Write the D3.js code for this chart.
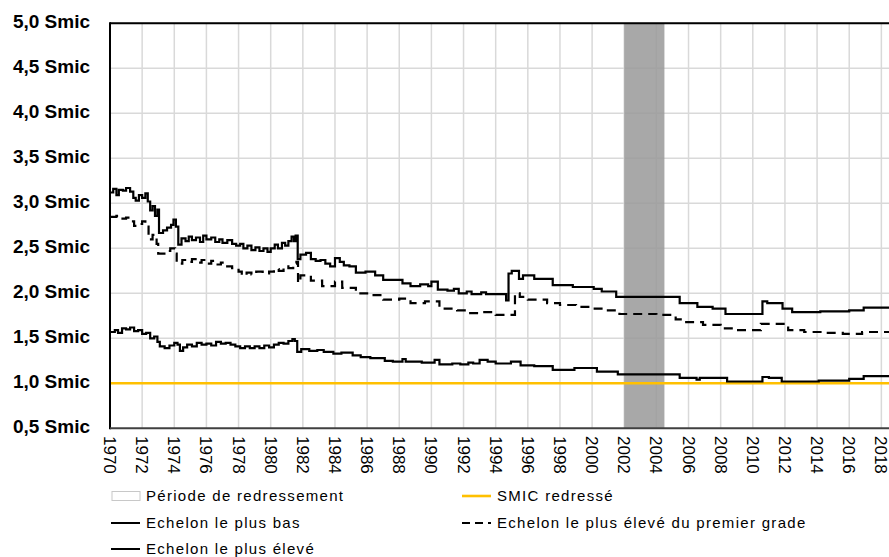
<!DOCTYPE html>
<html>
<head>
<meta charset="utf-8">
<script src="https://cdn.jsdelivr.net/npm/d3@7"></script>
<style>
  html, body { margin: 0; padding: 0; background: #fff; }
  svg { display: block; font-family: "Liberation Sans", Arial, sans-serif; }
</style>
</head>
<body>
<svg id="chart" width="889" height="557"></svg>
<script>
// Rémunération en multiples du Smic, 1970-2018

const tickYears = d3.range(1970, 2019, 2);
const yTicks = [0.5, 1.0, 1.5, 2.0, 2.5, 3.0, 3.5, 4.0, 4.5, 5.0];

// Période de redressement (début, fin)
const redressement = [2002.0, 2004.5];

// SMIC redressé
const smic = [[1970, 1.0], [2018.5, 1.0]];

// Echelon le plus bas
const echelonBas = [
  [1970.0,1.57],[1970.3,1.59],[1970.5,1.56],[1970.75,1.61],[1971.0,1.60],[1971.25,1.62],
  [1971.5,1.58],[1971.75,1.59],[1972.0,1.55],[1972.25,1.56],[1972.5,1.50],[1972.75,1.52],
  [1972.95,1.46],[1973.1,1.41],[1973.4,1.39],[1973.7,1.42],[1974.0,1.45],[1974.2,1.43],
  [1974.35,1.36],[1974.55,1.40],[1974.8,1.43],[1975.1,1.41],[1975.4,1.45],[1975.7,1.43],
  [1976.0,1.44],[1976.3,1.42],[1976.6,1.46],[1976.9,1.44],[1977.2,1.45],[1977.5,1.43],
  [1977.8,1.41],[1978.1,1.39],[1978.4,1.41],[1978.7,1.39],[1979.0,1.41],[1979.3,1.39],
  [1979.6,1.42],[1979.9,1.40],[1980.2,1.43],[1980.5,1.45],[1980.8,1.44],[1981.1,1.47],
  [1981.35,1.49],[1981.5,1.47],[1981.65,1.35],[1981.9,1.38],[1982.4,1.36],[1982.9,1.37],
  [1983.3,1.35],[1983.9,1.33],[1984.4,1.34],[1985.1,1.31],[1985.6,1.29],[1986.2,1.28],
  [1987.1,1.25],[1987.6,1.24],[1988.2,1.27],[1988.4,1.24],[1989.4,1.23],[1990.2,1.26],
  [1990.5,1.21],[1991.3,1.22],[1991.8,1.21],[1992.3,1.23],[1992.6,1.22],[1993.0,1.26],
  [1993.5,1.24],[1994.0,1.22],[1994.95,1.24],[1995.55,1.20],[1996.4,1.19],[1997.55,1.15],
  [1998.9,1.17],[2000.3,1.13],[2001.6,1.10],[2005.45,1.06],[2006.5,1.04],[2006.7,1.06],
  [2008.4,1.02],[2010.6,1.07],[2011.0,1.06],[2011.8,1.02],[2014.1,1.03],[2016.0,1.05],
  [2016.9,1.08],[2018.5,1.08]
];

// Echelon le plus élevé du premier grade
const echelonPremierGrade = [
  [1970.0,2.85],[1970.4,2.86],[1970.6,2.83],[1971.0,2.84],[1971.3,2.80],[1971.5,2.75],
  [1971.8,2.77],[1972.0,2.80],[1972.2,2.74],[1972.4,2.60],[1972.65,2.65],[1972.9,2.55],
  [1973.0,2.44],[1973.55,2.47],[1973.75,2.50],[1974.05,2.44],[1974.15,2.33],[1974.5,2.37],
  [1974.8,2.35],[1975.1,2.38],[1975.4,2.34],[1975.7,2.37],[1976.0,2.33],[1976.3,2.36],
  [1976.6,2.32],[1976.9,2.34],[1977.2,2.30],[1977.6,2.28],[1978.0,2.24],[1978.2,2.20],
  [1978.5,2.23],[1978.8,2.21],[1979.1,2.24],[1979.5,2.22],[1979.9,2.24],[1980.2,2.27],
  [1980.5,2.25],[1980.8,2.30],[1981.1,2.28],[1981.4,2.33],[1981.6,2.35],[1981.7,2.12],
  [1981.85,2.20],[1982.5,2.14],[1983.2,2.08],[1984.0,2.13],[1984.45,2.06],[1985.3,2.00],
  [1986.0,1.98],[1987.0,1.93],[1988.0,1.94],[1988.7,1.89],[1989.6,1.91],[1990.5,1.83],
  [1991.6,1.81],[1992.3,1.78],[1993.2,1.79],[1994.0,1.76],[1995.2,2.00],[1995.5,1.96],
  [1996.0,1.93],[1997.2,1.89],[1998.0,1.87],[1999.0,1.85],[2000.0,1.83],[2000.9,1.81],
  [2001.7,1.77],[2004.0,1.76],[2005.2,1.71],[2005.6,1.68],[2006.9,1.65],[2008.0,1.61],
  [2009.0,1.59],[2010.5,1.66],[2012.2,1.59],[2013.2,1.57],[2014.4,1.56],[2015.6,1.55],
  [2016.8,1.57],[2018.5,1.57]
];

// Echelon le plus élevé
const echelonEleve = [
  [1970.0,3.12],[1970.2,3.16],[1970.4,3.09],[1970.55,3.15],[1970.8,3.14],[1971.0,3.17],
  [1971.25,3.13],[1971.45,3.06],[1971.6,3.03],[1971.8,3.09],[1972.0,3.06],[1972.2,3.11],
  [1972.35,3.02],[1972.5,2.92],[1972.65,2.97],[1972.8,2.86],[1972.95,2.93],[1973.05,2.67],
  [1973.3,2.70],[1973.55,2.73],[1973.8,2.76],[1973.95,2.82],[1974.1,2.74],[1974.25,2.54],
  [1974.45,2.61],[1974.7,2.58],[1974.9,2.63],[1975.1,2.59],[1975.35,2.62],[1975.6,2.57],
  [1975.8,2.64],[1976.0,2.60],[1976.3,2.62],[1976.55,2.57],[1976.8,2.60],[1977.0,2.56],
  [1977.3,2.59],[1977.6,2.55],[1977.85,2.53],[1978.1,2.55],[1978.3,2.50],[1978.55,2.53],
  [1978.8,2.48],[1979.05,2.51],[1979.3,2.47],[1979.55,2.50],[1979.8,2.46],[1980.0,2.50],
  [1980.25,2.54],[1980.45,2.50],[1980.7,2.56],[1980.9,2.53],[1981.1,2.58],[1981.3,2.63],
  [1981.45,2.58],[1981.55,2.64],[1981.68,2.38],[1981.85,2.43],[1982.2,2.45],[1982.5,2.38],
  [1982.8,2.36],[1983.1,2.37],[1983.4,2.33],[1983.7,2.30],[1984.0,2.39],[1984.3,2.35],
  [1984.55,2.31],[1984.9,2.30],[1985.3,2.23],[1985.9,2.24],[1986.5,2.20],[1987.0,2.15],
  [1987.6,2.15],[1988.2,2.11],[1988.7,2.08],[1989.3,2.10],[1989.8,2.08],[1990.0,2.13],
  [1990.4,2.04],[1991.0,2.03],[1991.4,2.05],[1991.7,2.00],[1992.2,2.02],[1992.5,1.99],
  [1993.1,2.01],[1993.4,1.99],[1994.65,1.92],[1994.8,2.22],[1995.0,2.25],[1995.45,2.16],
  [1995.7,2.20],[1996.4,2.16],[1997.55,2.09],[1998.8,2.07],[2000.1,2.05],[2000.6,2.02],
  [2001.5,1.96],[2005.45,1.89],[2006.55,1.85],[2007.5,1.83],[2008.3,1.77],[2010.6,1.91],
  [2010.9,1.89],[2011.85,1.83],[2012.45,1.79],[2014.2,1.80],[2016.0,1.81],[2016.9,1.84],
  [2018.5,1.84]
];

const svg = d3.select("#chart");
const plotLeft = 110, plotRight = 889.4, plotTop = 23.3, plotBottom = 428.3;

const x = d3.scaleLinear().domain([1970, 2018.5]).range([plotLeft, plotRight]);
const y = d3.scaleLinear().domain([0.5, 5.0]).range([plotBottom, plotTop]);

// Quadrillage
const grid = svg.append("g");
grid.selectAll("line.v").data(tickYears.slice(1)).join("line")
  .attr("class", "v")
  .attr("x1", d => x(d)).attr("x2", d => x(d))
  .attr("y1", plotTop).attr("y2", plotBottom)
  .attr("stroke", "#d9d9d9").attr("stroke-width", 1.5);
grid.selectAll("line.h").data(yTicks.slice(1)).join("line")
  .attr("class", "h")
  .attr("x1", plotLeft).attr("x2", 889)
  .attr("y1", d => y(d)).attr("y2", d => y(d))
  .attr("stroke", "#d9d9d9").attr("stroke-width", 1.5);

// Période de redressement
svg.append("rect")
  .attr("x", x(redressement[0]))
  .attr("y", plotTop)
  .attr("width", x(redressement[1]) - x(redressement[0]))
  .attr("height", plotBottom - plotTop)
  .attr("fill", "#999999").attr("fill-opacity", 0.85);

// SMIC redressé
const line = d3.line().x(d => x(d[0])).y(d => y(d[1])).curve(d3.curveStepAfter);
svg.append("path").datum(smic).attr("d", line)
  .attr("fill", "none").attr("stroke", "#ffc000").attr("stroke-width", 2.6);

// Séries
const series = [
  { data: echelonBas, dash: null },
  { data: echelonPremierGrade, dash: "9,6" },
  { data: echelonEleve, dash: null }
];
series.forEach(s => {
  svg.append("path").datum(s.data).attr("d", line)
    .attr("fill", "none").attr("stroke", "#000").attr("stroke-width", 2.2)
    .attr("stroke-linejoin", "miter")
    .attr("stroke-dasharray", s.dash);
});

// Cadre : haut, gauche, bas
svg.append("line").attr("x1", plotLeft).attr("x2", 889).attr("y1", plotTop).attr("y2", plotTop)
  .attr("stroke", "#000").attr("stroke-width", 2);
svg.append("line").attr("x1", plotLeft).attr("x2", plotLeft).attr("y1", plotTop - 1).attr("y2", plotBottom + 1)
  .attr("stroke", "#000").attr("stroke-width", 2);
svg.append("line").attr("x1", plotLeft).attr("x2", 889).attr("y1", plotBottom).attr("y2", plotBottom)
  .attr("stroke", "#404040").attr("stroke-width", 2);

// Axe des ordonnées
const fmt = d => d.toFixed(1).replace(".", ",") + " Smic";
svg.append("g").selectAll("text").data(yTicks).join("text")
  .attr("x", 90).attr("y", d => y(d) + 5)
  .attr("text-anchor", "end")
  .attr("font-size", 19).attr("font-weight", "bold").attr("fill", "#000")
  .text(fmt);

// Axe des abscisses
svg.append("g").selectAll("text").data(tickYears).join("text")
  .attr("transform", d => `translate(${x(d)},436) rotate(90)`)
  .attr("dy", "0.35em")
  .attr("font-size", 17).attr("fill", "#000")
  .text(d => d);

// Légende
const legend = svg.append("g").attr("font-size", 15).attr("letter-spacing", "1.3px").attr("fill", "#000");
const items = [
  { label: "Période de redressement", type: "rect", lx: 111, ly: 496 },
  { label: "SMIC redressé", type: "smic", lx: 462, ly: 496 },
  { label: "Echelon le plus bas", type: "solid", lx: 111, ly: 523 },
  { label: "Echelon le plus élevé du premier grade", type: "dash", lx: 462, ly: 523 },
  { label: "Echelon le plus élevé", type: "solid", lx: 111, ly: 549 }
];
items.forEach(it => {
  if (it.type === "rect") {
    legend.append("rect").attr("x", it.lx + 1).attr("y", it.ly - 4.5)
      .attr("width", 28).attr("height", 9)
      .attr("fill", "#fff").attr("stroke", "#c8c8c8").attr("stroke-width", 1);
  } else {
    legend.append("line").attr("x1", it.lx).attr("x2", it.lx + 29)
      .attr("y1", it.ly).attr("y2", it.ly)
      .attr("stroke", it.type === "smic" ? "#ffc000" : "#000")
      .attr("stroke-width", it.type === "smic" ? 2.6 : 2)
      .attr("stroke-dasharray", it.type === "dash" ? "8,5" : null);
  }
  legend.append("text").attr("x", it.lx + 35).attr("y", it.ly).attr("dy", "0.35em")
    .text(it.label);
});
</script>
</body>
</html>
